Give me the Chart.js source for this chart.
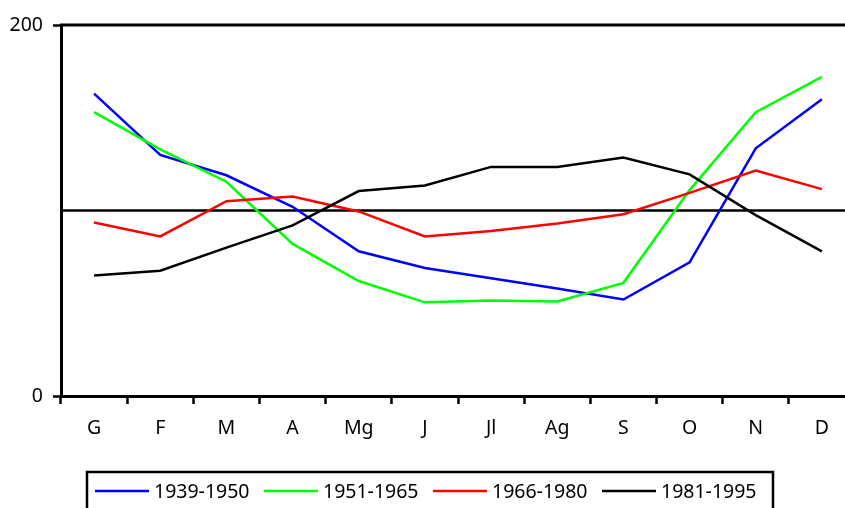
<!DOCTYPE html>
<html>
<head>
<meta charset="utf-8">
<script src="https://cdn.jsdelivr.net/npm/chart.js@4/dist/chart.umd.min.js"></script>
<style>
  html, body { margin: 0; padding: 0; background: #fff; overflow: hidden; }
  #wrap { width: 845px; height: 508px; overflow: hidden; }
</style>
</head>
<body>
<div id="wrap"><canvas id="chartCanvas" width="860" height="508"></canvas></div>
<script>
const months = ["G", "F", "M", "A", "Mg", "J", "Jl", "Ag", "S", "O", "N", "D"];
const yTicks = [0, 200];
const refValue = 100;

const seriesNames = ["1939-1950", "1951-1965", "1966-1980", "1981-1995"];
const seriesColors = ["#0000ff", "#00ff00", "#ff0000", "#000000"];

const s1939 = [163, 130, 119, 102, 78, 69, 63.5, 58, 52, 72, 133.5, 160];
const s1951 = [153, 133, 115.5, 82, 62, 50.5, 51.5, 51, 61, 111, 153, 172];
const s1966 = [93.5, 86, 105, 107.5, 99.5, 86, 89, 93, 98, 109.5, 121.5, 111.5];
const s1981 = [65, 67.5, 80, 92, 110.5, 113.5, 123.5, 123.5, 128.5, 119.5, 97.5, 78];

const allSeries = [s1939, s1951, s1966, s1981];
const fontFamily = "'Noto Sans', 'DejaVu Sans', sans-serif";
const fontSize = 19.5;

// top frame line + reference line at 100
const framePlugin = {
  id: "frame",
  beforeDatasetsDraw(chart) {
    const ctx = chart.ctx;
    const a = chart.chartArea;
    const y = chart.scales.y.getPixelForValue(refValue);
    ctx.save();
    ctx.strokeStyle = "#000";
    ctx.lineWidth = 2.5;
    ctx.beginPath();
    ctx.moveTo(a.left, y);
    ctx.lineTo(a.right, y);
    ctx.stroke();
    ctx.restore();
  },
  afterDraw(chart) {
    const ctx = chart.ctx;
    const a = chart.chartArea;
    ctx.save();
    ctx.strokeStyle = "#000";
    ctx.lineWidth = 3;
    ctx.beginPath();
    ctx.moveTo(a.left - 1, a.top);
    ctx.lineTo(a.right, a.top);
    ctx.lineTo(a.right, a.bottom);
    ctx.stroke();
    ctx.restore();
  }
};

// legend box under the axis, like the original
const legendPlugin = {
  id: "boxLegend",
  afterDraw(chart) {
    const ctx = chart.ctx;
    const left = 87, top = 472, width = 686;
    ctx.save();
    ctx.strokeStyle = "#000";
    ctx.lineWidth = 2.5;
    ctx.strokeRect(left, top, width, 60);
    ctx.font = fontSize + "px " + fontFamily;
    ctx.textBaseline = "middle";
    ctx.fillStyle = "#000";
    chart.data.datasets.forEach((ds, i) => {
      const x = 95 + i * 169;
      const y = 491;
      ctx.strokeStyle = ds.borderColor;
      ctx.lineWidth = 2.5;
      ctx.beginPath();
      ctx.moveTo(x, y);
      ctx.lineTo(x + 54, y);
      ctx.stroke();
      ctx.fillText(ds.label, x + 59, y + 1);
    });
    ctx.restore();
  }
};

const ctx = document.getElementById("chartCanvas").getContext("2d");

new Chart(ctx, {
  type: "line",
  data: {
    labels: months,
    datasets: allSeries.map((values, i) => ({
      label: seriesNames[i],
      data: values,
      borderColor: seriesColors[i],
      backgroundColor: seriesColors[i],
      borderWidth: 2.5,
      pointRadius: 0,
      tension: 0,
      order: allSeries.length - i
    }))
  },
  options: {
    responsive: false,
    animation: false,
    devicePixelRatio: 1,
    layout: { padding: { top: 25, right: 5, left: 0, bottom: 0 } },
    plugins: {
      legend: { display: false },
      tooltip: { enabled: false }
    },
    scales: {
      x: {
        offset: true,
        grid: {
          offset: true,
          drawOnChartArea: false,
          drawTicks: true,
          tickLength: 8,
          tickWidth: 2.5,
          tickColor: "#000"
        },
        border: { display: true, color: "#000", width: 3 },
        ticks: {
          color: "#000",
          padding: 13,
          maxRotation: 0,
          font: { family: fontFamily, size: fontSize }
        },
        afterFit(scale) { scale.height = 112; }
      },
      y: {
        min: yTicks[0],
        max: yTicks[yTicks.length - 1],
        afterBuildTicks(scale) {
          scale.ticks = yTicks.map(v => ({ value: v }));
        },
        grid: {
          drawOnChartArea: false,
          drawTicks: true,
          tickLength: 8,
          tickWidth: 2.5,
          tickColor: "#000"
        },
        border: { display: true, color: "#000", width: 3 },
        ticks: {
          color: "#000",
          padding: 10,
          font: { family: fontFamily, size: fontSize }
        },
        afterFit(scale) { scale.width = 61; }
      }
    }
  },
  plugins: [framePlugin, legendPlugin]
});
</script>
</body>
</html>
